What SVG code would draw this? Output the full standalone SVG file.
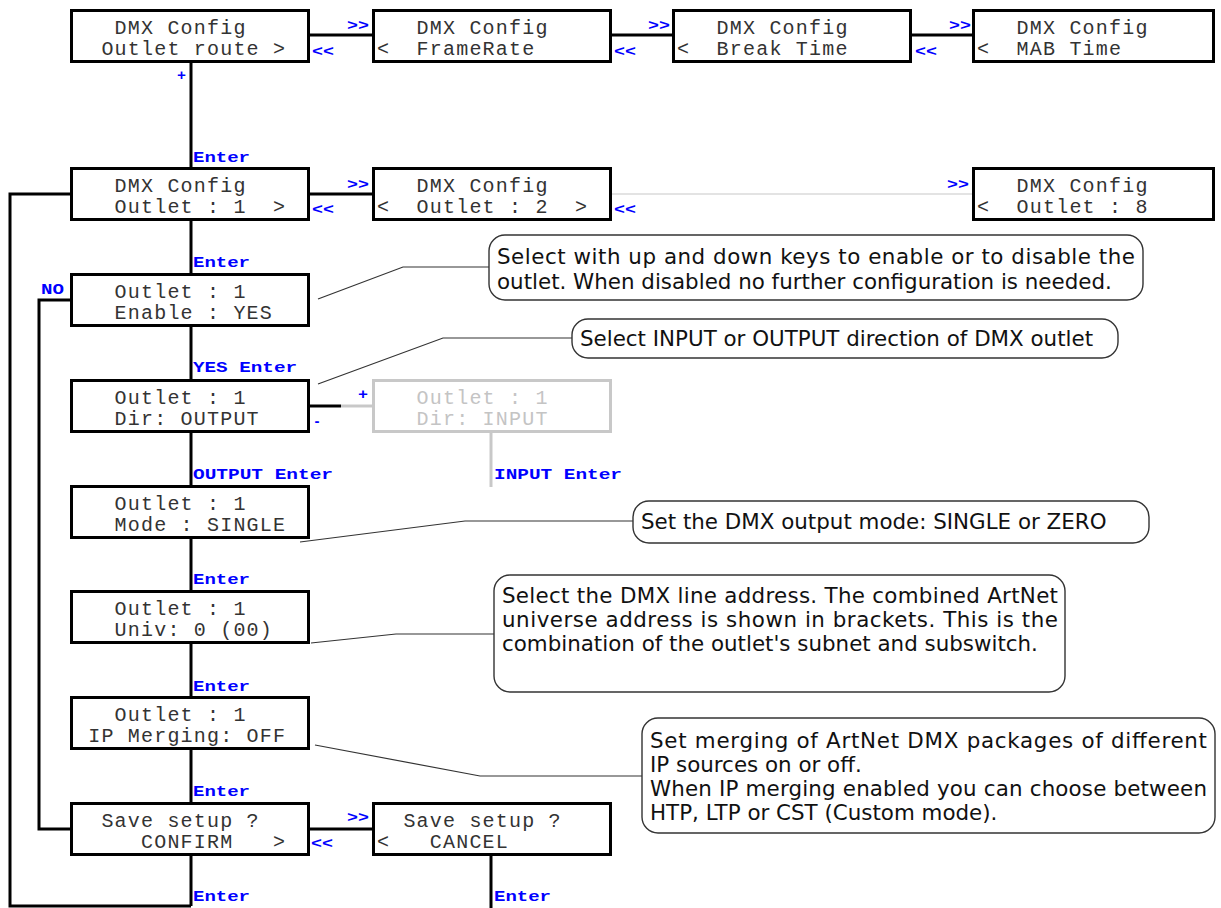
<svg xmlns="http://www.w3.org/2000/svg" width="1221" height="908" viewBox="0 0 1221 908">
<style>
.bx{fill:#fff;stroke:#000;stroke-width:3}
.gbx{fill:#fff;stroke:#c8c8c8;stroke-width:3}
.m{font-family:"Liberation Mono","Courier New",monospace;font-size:20px;letter-spacing:1.2px;fill:#333}
.gm{font-family:"Liberation Mono","Courier New",monospace;font-size:20px;letter-spacing:1.2px;fill:#c4c4c4}
.lb{font-family:"Liberation Mono","Courier New",monospace;font-size:15px;font-weight:bold;fill:#0000ff}
.ln{fill:none;stroke:#000;stroke-width:3}
.gln{fill:none;stroke:#c8c8c8;stroke-width:3}
.thin{fill:none;stroke:#c8c8c8;stroke-width:1.2}
.ld{fill:none;stroke:#333;stroke-width:1.2}
.co{fill:#fff;stroke:#333;stroke-width:1.4}
.ct{font-family:"DejaVu Sans","Verdana",sans-serif;font-size:21.4px;fill:#111}
</style>
<g id="connectors">
<line class="ln" x1="310" y1="35" x2="372" y2="35"/>
<line class="ln" x1="612" y1="35" x2="672" y2="35"/>
<line class="ln" x1="912" y1="35" x2="972" y2="35"/>
<line class="ln" x1="191" y1="63" x2="191" y2="906"/>
<line class="ln" x1="310" y1="194" x2="372" y2="194"/>
<line class="thin" x1="612" y1="194" x2="972" y2="194"/>
<polyline class="ln" points="70,194 10,194 10,906 191,906"/>
<polyline class="ln" points="70,300 39,300 39,829 70,829"/>
<line class="ln" x1="310" y1="829" x2="372" y2="829"/>
<line class="ln" x1="491" y1="856" x2="491" y2="908"/>
<line class="ln" x1="310" y1="406" x2="341" y2="406"/>
<line class="gln" x1="341" y1="406" x2="372" y2="406"/>
<line class="gln" x1="491" y1="433" x2="491" y2="487"/>
<polyline class="ld" points="318,299 403,267 489,267"/>
<polyline class="ld" points="318,384 443,338 572,338"/>
<polyline class="ld" points="300,542 465,521 633,521"/>
<polyline class="ld" points="311,643 396,634 494,634"/>
<polyline class="ld" points="315,745 480,776 642,776"/>
<text class="lb" x="347" y="30" textLength="22" lengthAdjust="spacingAndGlyphs">&gt;&gt;</text>
<text class="lb" x="312" y="56" textLength="22" lengthAdjust="spacingAndGlyphs">&lt;&lt;</text>
<text class="lb" x="648" y="30" textLength="22" lengthAdjust="spacingAndGlyphs">&gt;&gt;</text>
<text class="lb" x="614" y="56" textLength="22" lengthAdjust="spacingAndGlyphs">&lt;&lt;</text>
<text class="lb" x="949" y="30" textLength="22" lengthAdjust="spacingAndGlyphs">&gt;&gt;</text>
<text class="lb" x="915" y="56" textLength="22" lengthAdjust="spacingAndGlyphs">&lt;&lt;</text>
<text class="lb" x="177" y="80" textLength="9" lengthAdjust="spacingAndGlyphs">+</text>
<text class="lb" x="193" y="162" textLength="57" lengthAdjust="spacingAndGlyphs">Enter</text>
<text class="lb" x="347" y="189" textLength="22" lengthAdjust="spacingAndGlyphs">&gt;&gt;</text>
<text class="lb" x="312" y="214" textLength="22" lengthAdjust="spacingAndGlyphs">&lt;&lt;</text>
<text class="lb" x="947" y="189" textLength="22" lengthAdjust="spacingAndGlyphs">&gt;&gt;</text>
<text class="lb" x="614" y="214" textLength="22" lengthAdjust="spacingAndGlyphs">&lt;&lt;</text>
<text class="lb" x="193" y="267" textLength="57" lengthAdjust="spacingAndGlyphs">Enter</text>
<text class="lb" x="41" y="294" textLength="23" lengthAdjust="spacingAndGlyphs">NO</text>
<text class="lb" x="193" y="372" textLength="104" lengthAdjust="spacingAndGlyphs">YES Enter</text>
<text class="lb" x="358" y="399" textLength="10" lengthAdjust="spacingAndGlyphs">+</text>
<text class="lb" x="313" y="426" textLength="8" lengthAdjust="spacingAndGlyphs">-</text>
<text class="lb" x="193" y="479" textLength="140" lengthAdjust="spacingAndGlyphs">OUTPUT Enter</text>
<text class="lb" x="494" y="479" textLength="128" lengthAdjust="spacingAndGlyphs">INPUT Enter</text>
<text class="lb" x="193" y="584" textLength="57" lengthAdjust="spacingAndGlyphs">Enter</text>
<text class="lb" x="193" y="691" textLength="57" lengthAdjust="spacingAndGlyphs">Enter</text>
<text class="lb" x="193" y="796" textLength="57" lengthAdjust="spacingAndGlyphs">Enter</text>
<text class="lb" x="347" y="822" textLength="22" lengthAdjust="spacingAndGlyphs">&gt;&gt;</text>
<text class="lb" x="311" y="848" textLength="22" lengthAdjust="spacingAndGlyphs">&lt;&lt;</text>
<text class="lb" x="193" y="901" textLength="57" lengthAdjust="spacingAndGlyphs">Enter</text>
<text class="lb" x="494" y="901" textLength="57" lengthAdjust="spacingAndGlyphs">Enter</text>
</g>
<g id="n-route"><rect class="bx" x="71.5" y="10.5" width="237" height="51"/><text class="m" x="114.6" y="34">DMX Config</text><text class="m" x="101.4" y="55" xml:space="preserve">Outlet route &gt;</text></g>
<g id="n-framerate"><rect class="bx" x="373.5" y="10.5" width="237" height="51"/><text class="m" x="416.6" y="34">DMX Config</text><text class="m" x="377" y="55" xml:space="preserve">&lt;  FrameRate</text></g>
<g id="n-break"><rect class="bx" x="673.5" y="10.5" width="237" height="51"/><text class="m" x="716.6" y="34">DMX Config</text><text class="m" x="677" y="55" xml:space="preserve">&lt;  Break Time</text></g>
<g id="n-mab"><rect class="bx" x="973.5" y="10.5" width="240" height="51"/><text class="m" x="1016.6" y="34">DMX Config</text><text class="m" x="977" y="55" xml:space="preserve">&lt;  MAB Time</text></g>
<g id="n-outlet1"><rect class="bx" x="71.5" y="168.5" width="237" height="51"/><text class="m" x="114.6" y="192">DMX Config</text><text class="m" x="114.6" y="213" xml:space="preserve">Outlet : 1  &gt;</text></g>
<g id="n-outlet2"><rect class="bx" x="373.5" y="168.5" width="237" height="51"/><text class="m" x="416.6" y="192">DMX Config</text><text class="m" x="377" y="213" xml:space="preserve">&lt;  Outlet : 2  &gt;</text></g>
<g id="n-outlet8"><rect class="bx" x="973.5" y="168.5" width="240" height="51"/><text class="m" x="1016.6" y="192">DMX Config</text><text class="m" x="977" y="213" xml:space="preserve">&lt;  Outlet : 8</text></g>
<g id="n-enable"><rect class="bx" x="71.5" y="274.5" width="237" height="51"/><text class="m" x="114.6" y="298">Outlet : 1</text><text class="m" x="114.6" y="319">Enable : YES</text></g>
<g id="n-dir"><rect class="bx" x="71.5" y="380.5" width="237" height="51"/><text class="m" x="114.6" y="404">Outlet : 1</text><text class="m" x="114.6" y="425">Dir: OUTPUT</text></g>
<g id="n-dir-input"><rect class="gbx" x="373.5" y="380.5" width="237" height="51"/><text class="gm" x="416.6" y="404">Outlet : 1</text><text class="gm" x="416.6" y="425">Dir: INPUT</text></g>
<g id="n-mode"><rect class="bx" x="71.5" y="486.5" width="237" height="51"/><text class="m" x="114.6" y="510">Outlet : 1</text><text class="m" x="114.6" y="531">Mode : SINGLE</text></g>
<g id="n-univ"><rect class="bx" x="71.5" y="591.5" width="237" height="51"/><text class="m" x="114.6" y="615">Outlet : 1</text><text class="m" x="114.6" y="636">Univ: 0 (00)</text></g>
<g id="n-merge"><rect class="bx" x="71.5" y="697.5" width="237" height="51"/><text class="m" x="114.6" y="721">Outlet : 1</text><text class="m" x="88.2" y="742">IP Merging: OFF</text></g>
<g id="n-confirm"><rect class="bx" x="71.5" y="803.5" width="237" height="51"/><text class="m" x="101.4" y="827">Save setup ?</text><text class="m" x="141" y="848" xml:space="preserve">CONFIRM   &gt;</text></g>
<g id="n-cancel"><rect class="bx" x="373.5" y="803.5" width="237" height="51"/><text class="m" x="403.4" y="827">Save setup ?</text><text class="m" x="377" y="848" xml:space="preserve">&lt;   CANCEL</text></g>
<g id="c-enable"><rect class="co" x="489" y="235" width="654" height="65" rx="16"/><text class="ct" x="497" y="264" textLength="638" lengthAdjust="spacing">Select with up and down keys to enable or to disable the</text><text class="ct" x="497" y="289">outlet. When disabled no further configuration is needed.</text></g>
<g id="c-dir"><rect class="co" x="572" y="319" width="546" height="39" rx="16"/><text class="ct" x="580" y="346">Select INPUT or OUTPUT direction of DMX outlet</text></g>
<g id="c-mode"><rect class="co" x="633" y="501" width="516" height="42" rx="16"/><text class="ct" x="641" y="529">Set the DMX output mode: SINGLE or ZERO</text></g>
<g id="c-univ"><rect class="co" x="494" y="575" width="571" height="117" rx="16"/><text class="ct" x="502" y="603" textLength="556" lengthAdjust="spacing">Select the DMX line address. The combined ArtNet</text><text class="ct" x="502" y="627" textLength="556" lengthAdjust="spacing">universe address is shown in brackets. This is the</text><text class="ct" x="502" y="651">combination of the outlet's subnet and subswitch.</text></g>
<g id="c-merge"><rect class="co" x="642" y="718" width="573" height="115" rx="16"/><text class="ct" x="650" y="748" textLength="557" lengthAdjust="spacing">Set merging of ArtNet DMX packages of different</text><text class="ct" x="650" y="772">IP sources on or off.</text><text class="ct" x="650" y="796" textLength="557" lengthAdjust="spacing">When IP merging enabled you can choose between</text><text class="ct" x="650" y="820">HTP, LTP or CST (Custom mode).</text></g>
</svg>
